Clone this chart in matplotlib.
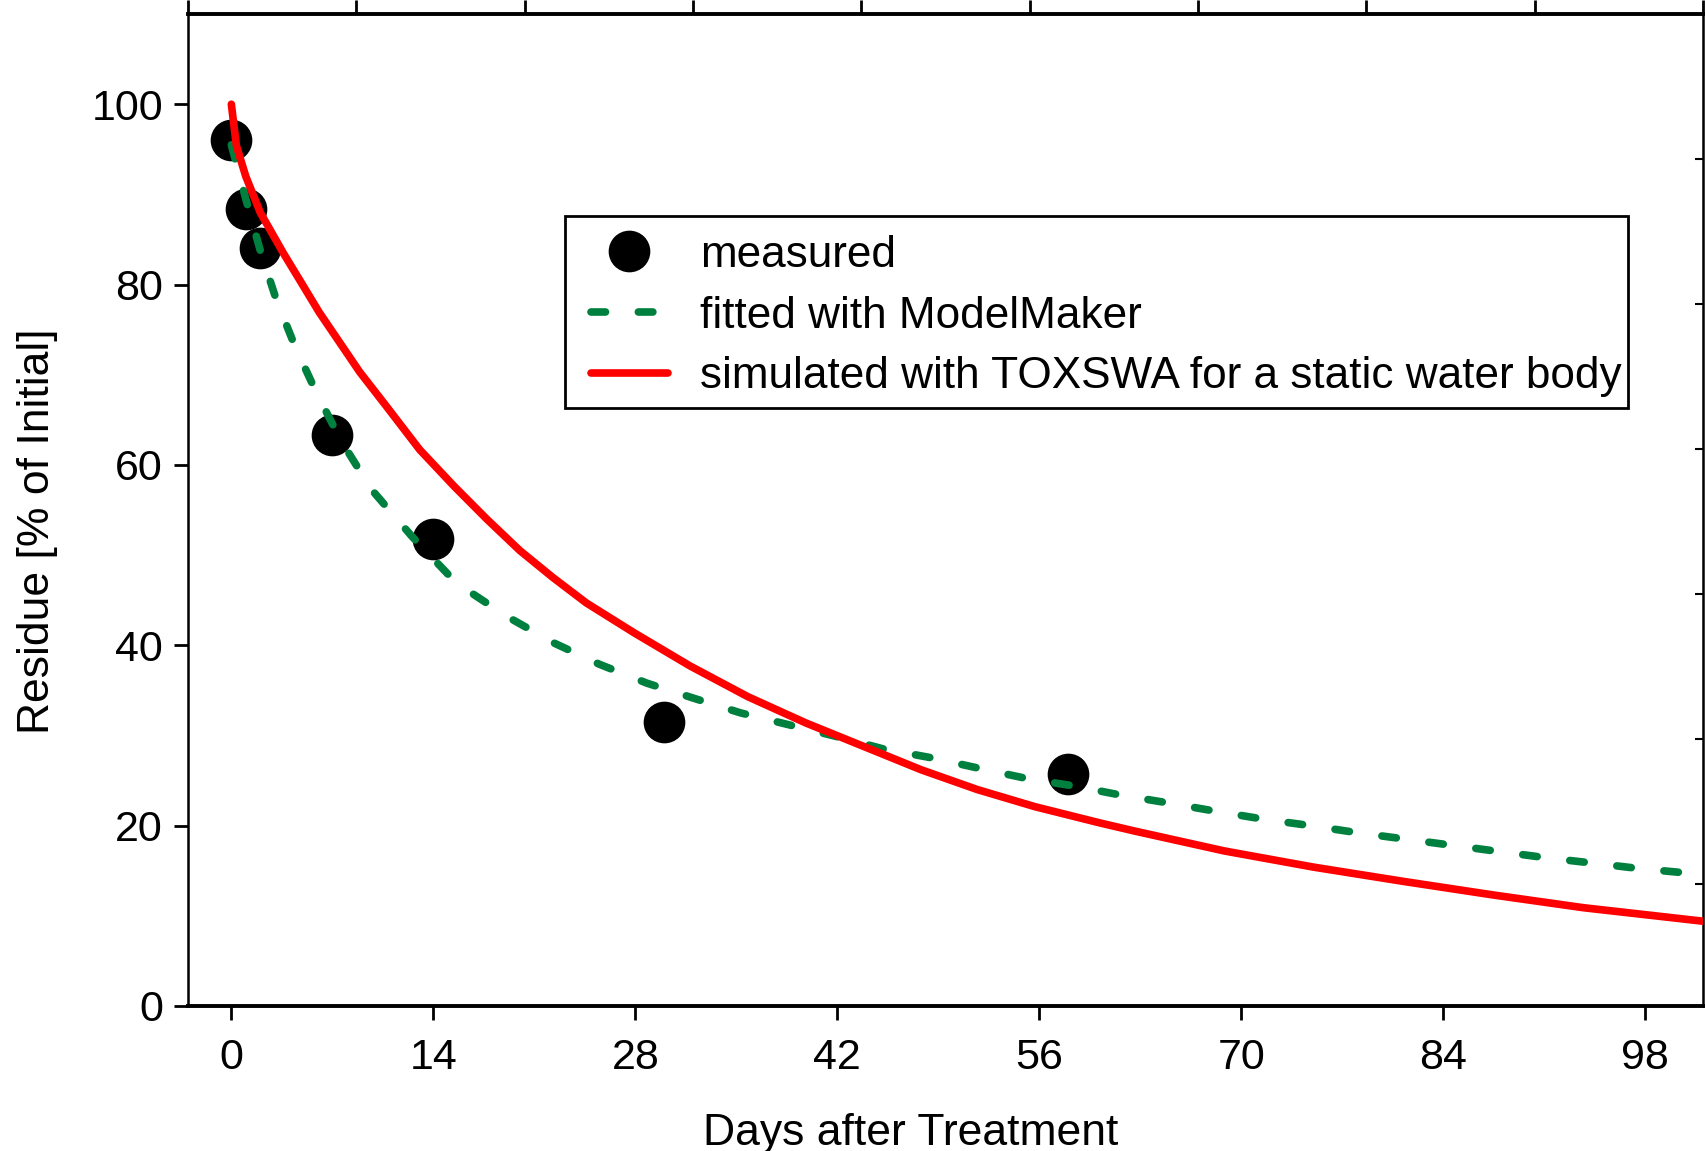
import numpy as np
import matplotlib
matplotlib.use("Agg")
import matplotlib.pyplot as plt
from matplotlib.patches import Rectangle

plt.rcParams["font.family"] = ["Liberation Sans", "DejaVu Sans"]

# measured residues
days_meas = [0, 1, 2, 7, 14, 30, 58]
residue_meas = [96, 88.4, 84.1, 63.3, 51.8, 31.5, 25.7]

# fitted with ModelMaker
days_fit = [0, 1, 2, 3.1, 4.4, 5.9, 7.6, 9.7, 12.5, 15.6, 19.1, 22.3, 25.5, 28.8, 32.1,
            35.3, 38.6, 41.9, 45.2, 48.6, 51.7, 55.2, 58.4, 61.6, 65, 68.2, 71.6, 74.8,
            78.1, 81.4, 84.7, 88, 91.3, 94.6, 97.8, 101.2, 102]
residue_fit = [95.5, 89.5, 83.8, 78.4, 73.2, 68.0, 62.7, 57.3, 52.1, 46.9, 43.2, 40.3, 37.9,
               35.8, 34.1, 32.5, 31.2, 29.9, 28.5, 27.5, 26.4, 25.2, 24.4, 23.4, 22.5, 21.6,
               20.7, 20.0, 19.2, 18.5, 17.8, 17.1, 16.4, 15.8, 15.2, 14.7, 14.6]

# simulated with TOXSWA
days_sim = [0, 0.35, 1, 2, 3.6, 4.7, 6.1, 7.5, 8.9, 10.7, 13.05, 15.4, 17.7, 20, 22.3, 24.6,
            27.9, 31.8, 35.8, 39.8, 43.8, 47.8, 51.7, 55.7, 60.2, 62.6, 68.8, 75, 81.3,
            87.5, 93.7, 102]
residue_sim = [100, 95.4, 92, 88, 83.5, 80.6, 76.9, 73.6, 70.3, 66.6, 61.7, 57.7, 54.0, 50.5,
               47.5, 44.7, 41.4, 37.7, 34.3, 31.4, 28.8, 26.2, 24.0, 22.1, 20.3, 19.4, 17.2,
               15.4, 13.8, 12.3, 10.9, 9.4]

xticks = [0, 14, 28, 42, 56, 70, 84, 98]
yticks = [0, 20, 40, 60, 80, 100]

fig = plt.figure(figsize=(17.05, 11.51), dpi=100)
ax = fig.add_axes([0.1103, 0.126, 0.8885, 0.8618])

ax.plot(days_meas, residue_meas, "o", color="black", markersize=29,
        zorder=2, label="measured")
ax.plot(days_fit, residue_fit, color="#00803f", lw=5.5, linestyle=(0, (1.9, 4.3)),
        dash_capstyle="round", zorder=3, label="fitted with ModelMaker")
ax.plot(days_sim, residue_sim, color="#ff0000", lw=5.5, zorder=4,
        solid_capstyle="round", label="simulated with TOXSWA for a static water body")

ax.set_xlim(-3, 102)
ax.set_ylim(0, 110)
ax.set_xticks(xticks)
ax.set_yticks(yticks)
ax.tick_params(axis="both", labelsize=31, direction="out", length=10, width=2)
ax.tick_params(axis="x", pad=13)
ax.tick_params(axis="y", pad=8)

ax.spines["bottom"].set_linewidth(2.8)
ax.spines["top"].set_linewidth(2.8)
ax.spines["left"].set_linewidth(1.8)
ax.spines["right"].set_linewidth(1.8)

ax.set_xlabel("Days after Treatment", fontsize=32, labelpad=25)
ax.set_ylabel("Residue [% of Initial]", fontsize=32, labelpad=24)
ax.xaxis.label.set_x(0.477)
ax.yaxis.label.set_y(0.479)

# top axis ticks (no labels)
axt = ax.twiny()
axt.set_xlim(0, 9)
axt.set_xticks(range(10))
axt.tick_params(axis="x", top=True, labeltop=False, direction="out", length=10, width=2)
for s in axt.spines.values():
    s.set_visible(False)

# right axis ticks (no labels)
axr = ax.twinx()
axr.set_ylim(0, 992)
axr.set_yticks([992 - 145 * k for k in range(1, 7)])
axr.tick_params(axis="y", right=True, labelright=False, direction="in", length=6, width=1.5)
for s in axr.spines.values():
    s.set_visible(False)

# legend box drawn separately so the text can sit close to the right edge
box = Rectangle((0.2488, 0.603), 0.7017, 0.1934, transform=ax.transAxes,
                facecolor="white", edgecolor="black", lw=2, zorder=5)
ax.add_patch(box)

leg = ax.legend(loc="upper left", bbox_to_anchor=(0.2556, 0.7931), borderaxespad=0,
                fontsize=31.8, frameon=False,
                handlelength=1.75, handletextpad=0.73, labelspacing=0.45,
                borderpad=0.35, markerscale=1.0)
leg.set_zorder(6)

fig.savefig("out.png", dpi=100)
plt.close()
